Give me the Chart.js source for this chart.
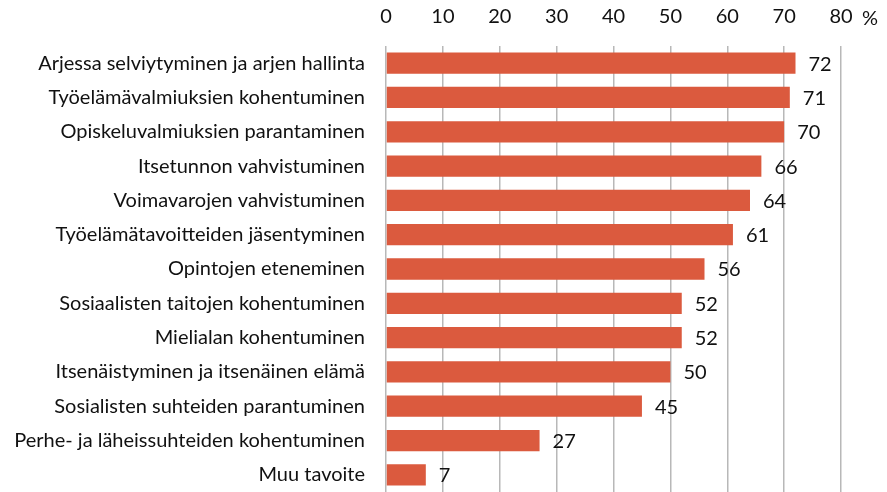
<!DOCTYPE html>
<html>
<head>
<meta charset="utf-8">
<script src="https://cdn.jsdelivr.net/npm/chart.js@4"></script>
<style>
  body { margin: 0; background: #fff; }
  #wrap { width: 887px; height: 492px; }
</style>
</head>
<body>
<div id="wrap"><canvas id="chart"></canvas></div>
<script>
const categories = [
  'Arjessa selviytyminen ja arjen hallinta',
  'Työelämävalmiuksien kohentuminen',
  'Opiskeluvalmiuksien parantaminen',
  'Itsetunnon vahvistuminen',
  'Voimavarojen vahvistuminen',
  'Työelämätavoitteiden jäsentyminen',
  'Opintojen eteneminen',
  'Sosiaalisten taitojen kohentuminen',
  'Mielialan kohentuminen',
  'Itsenäistyminen ja itsenäinen elämä',
  'Sosialisten suhteiden parantuminen',
  'Perhe- ja läheissuhteiden kohentuminen',
  'Muu tavoite'
];
const values = [72, 71, 70, 66, 64, 61, 56, 52, 52, 50, 45, 27, 7];
const axisMax = 80;
const unitLabel = '%';

const FONT = 'Lato, "Open Sans", sans-serif';

// value labels at the end of each bar, plus the % sign after the top axis
const barLabels = {
  id: 'barLabels',
  afterDatasetsDraw(chart) {
    const ctx = chart.ctx;
    const meta = chart.getDatasetMeta(0);
    ctx.save();
    ctx.font = '20px ' + FONT;
    ctx.fillStyle = '#111';
    ctx.textAlign = 'left';
    ctx.textBaseline = 'middle';
    meta.data.forEach((bar, i) => {
      ctx.fillText(values[i], bar.x + 13, bar.y + 1);
    });
    const xs = chart.scales.x;
    const tickY = xs.bottom - 17 - 10;
    ctx.fillText(unitLabel, xs.getPixelForValue(axisMax) + 21, tickY);
    ctx.restore();
  }
};

new Chart(document.getElementById('chart'), {
  type: 'bar',
  data: {
    labels: categories,
    datasets: [{
      data: values,
      backgroundColor: '#DB5A3E',
      borderWidth: 0,
      barPercentage: 0.62,
      categoryPercentage: 1.0
    }]
  },
  options: {
    indexAxis: 'y',
    responsive: true,
    maintainAspectRatio: false,
    animation: false,
    layout: { padding: { top: -12, right: 46, left: 0, bottom: 0 } },
    plugins: { legend: { display: false }, tooltip: { enabled: false } },
    scales: {
      x: {
        position: 'top',
        min: 0,
        max: axisMax,
        z: 1,
        ticks: { stepSize: 10, padding: 17, color: '#111', font: { family: FONT, size: 20 } },
        grid: { color: '#b8b8b8', lineWidth: 1.5, drawTicks: false },
        border: { display: false }
      },
      y: {
        ticks: { padding: 21, color: '#111', font: { family: FONT, size: 20 } },
        grid: { display: false, drawTicks: false },
        border: { display: false },
        afterFit(scale) {
          scale.width = 386;
          scale.paddingTop = 0;
          scale.paddingBottom = 0;
        }
      }
    }
  },
  plugins: [barLabels]
});
</script>
</body>
</html>
